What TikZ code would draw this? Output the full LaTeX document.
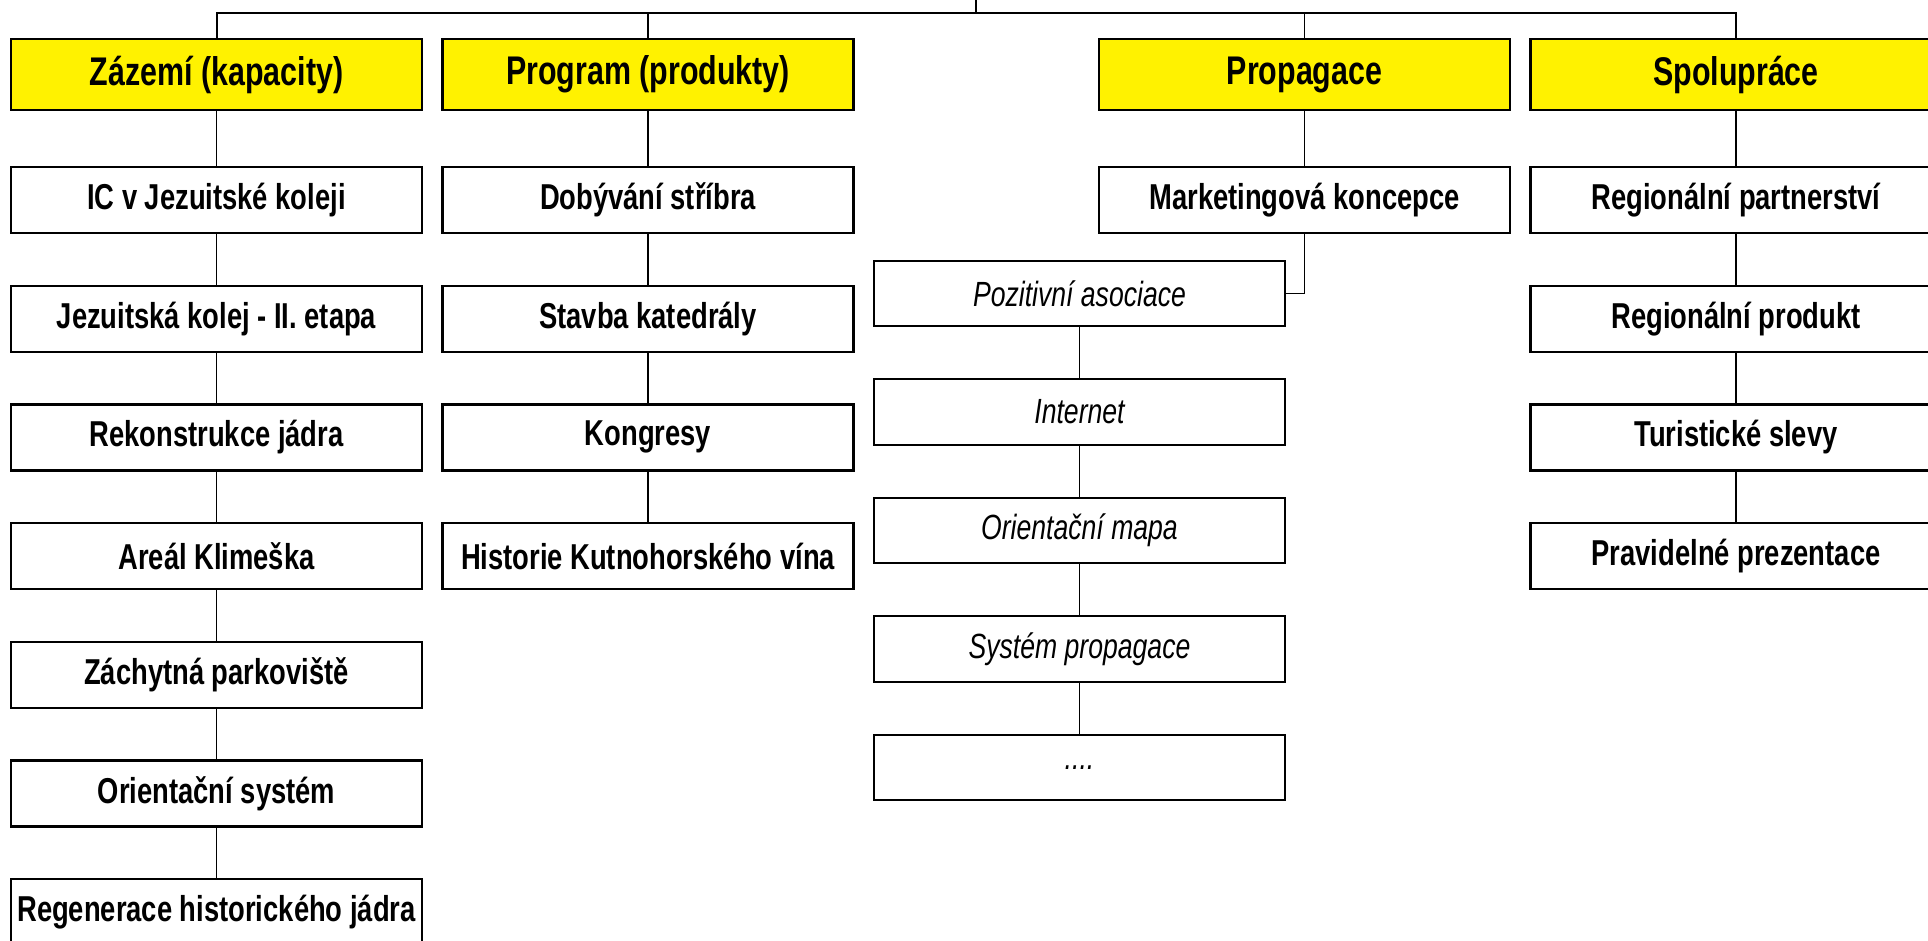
\documentclass[tikz,border=0pt]{standalone}
\usepackage{fontspec}
\setmainfont{Liberation Sans}[FakeStretch=0.76]
\begin{document}
\begin{tikzpicture}[x=1pt,y=-1pt,
  box/.style={draw=black, line width=2.4pt, fill=white, rectangle,
    minimum width=411pt, minimum height=66pt, inner sep=0pt, align=center},
  headbox/.style={box, fill=yellow, minimum height=71pt,
    font=\fontsize{40}{44}\selectfont\bfseries},
  itembox/.style={box, font=\fontsize{36}{40}\selectfont\bfseries},
  subbox/.style={box, minimum height=65.5pt, font=\fontsize{35}{38}\selectfont\itshape},
  link/.style={draw=black, line width=1.5pt},
  buslink/.style={draw=black, line width=2pt}]
\useasboundingbox (0,0) rectangle (1928,940);
\clip (0,0) rectangle (1928,940);
\fill[white] (0,0) rectangle (1928,940);

% column headers
\node[headbox] (h1) at (216.5,74.5) {Zázemí (kapacity)};
\node[headbox] (h2) at (648,74.5)   {Program (produkty)};
\node[headbox] (h3) at (1304.5,74.5){Propagace};
\node[headbox] (h4) at (1736,74.5)  {Spolupráce};

% Zázemí
\node[itembox] (a1) at (216.5,200)   {IC v Jezuitské koleji};
\node[itembox] (a2) at (216.5,318.7) {Jezuitská kolej - II. etapa};
\node[itembox] (a3) at (216.5,437.3) {Rekonstrukce jádra};
\node[itembox] (a4) at (216.5,556)   {Areál Klimeška};
\node[itembox] (a5) at (216.5,674.7) {Záchytná parkoviště};
\node[itembox] (a6) at (216.5,793.3) {Orientační systém};
\node[itembox] (a7) at (216.5,912)   {Regenerace historického jádra};

% Program
\node[itembox] (b1) at (648,200)   {Dobývání stříbra};
\node[itembox] (b2) at (648,318.7) {Stavba katedrály};
\node[itembox] (b3) at (648,437.3) {Kongresy};
\node[itembox] (b4) at (648,556)   {Historie Kutnohorského vína};

% Propagace
\node[itembox] (c1) at (1304.5,200) {Marketingová koncepce};
\node[subbox] (p1) at (1079.5,293.5) {Pozitivní asociace};
\node[subbox] (p2) at (1079.5,412)   {Internet};
\node[subbox] (p3) at (1079.5,530.5) {Orientační mapa};
\node[subbox] (p4) at (1079.5,649)   {Systém propagace};
\node[subbox] (p5) at (1079.5,767.5) {....};

% Spolupráce
\node[itembox] (d1) at (1736,200)   {Regionální partnerství};
\node[itembox] (d2) at (1736,318.7) {Regionální produkt};
\node[itembox] (d3) at (1736,437.3) {Turistické slevy};
\node[itembox] (d4) at (1736,556)   {Pravidelné prezentace};

% top bus
\coordinate (root) at (976,0);
\coordinate (bus) at (976,12.7);
\draw[link] (root) -- (bus);
\draw[buslink] (h1.north) |- (bus) -| (h4.north);
\draw[link] (h2.north) -- (h2.north |- bus);
\draw[link] (h3.north) -- (h3.north |- bus);

% column chains
\draw[link] (h1) -- (a1);
\draw[link] (a1) -- (a2);
\draw[link] (a2) -- (a3);
\draw[link] (a3) -- (a4);
\draw[link] (a4) -- (a5);
\draw[link] (a5) -- (a6);
\draw[link] (a6) -- (a7);

\draw[link] (h2) -- (b1);
\draw[link] (b1) -- (b2);
\draw[link] (b2) -- (b3);
\draw[link] (b3) -- (b4);

\draw[link] (h3) -- (c1);
\draw[link] (c1.south) |- (p1.east);
\draw[link] (p1) -- (p2);
\draw[link] (p2) -- (p3);
\draw[link] (p3) -- (p4);
\draw[link] (p4) -- (p5);

\draw[link] (h4) -- (d1);
\draw[link] (d1) -- (d2);
\draw[link] (d2) -- (d3);
\draw[link] (d3) -- (d4);
\end{tikzpicture}
\end{document}
